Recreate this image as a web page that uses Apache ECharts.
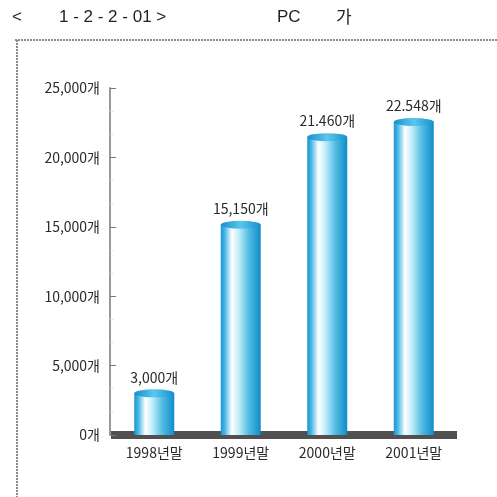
<!DOCTYPE html>
<html><head><meta charset="utf-8">
<script src="https://cdn.jsdelivr.net/npm/echarts@6/dist/echarts.min.js"></script>
<style>html,body{margin:0;padding:0;background:#fff}#c{width:497px;height:497px}</style>
</head><body><div id="c"></div>
<script>
const categories = ['1998년말', '1999년말', '2000년말', '2001년말'];
const values = [3000, 15150, 21460, 22548];
const valueLabels = ['3,000개', '15,150개', '21.460개', '22.548개'];
const yTicks = [0, 5000, 10000, 15000, 20000, 25000];
const yTickLabels = ['0개', '5,000개', '10,000개', '15,000개', '20,000개', '25,000개'];

const chart = echarts.init(document.getElementById('c'));
const font = '"Noto Sans CJK KR", "Liberation Sans", sans-serif';
const barGrad = new echarts.graphic.LinearGradient(0, 0, 1, 0, [
  {offset: 0, color: '#1596d0'},
  {offset: 0.1, color: '#46b6e4'},
  {offset: 0.28, color: '#ffffff'},
  {offset: 0.45, color: '#c2eef9'},
  {offset: 0.7, color: '#52bde4'},
  {offset: 1, color: '#0f8cc8'}
]);
const capGrad = new echarts.graphic.LinearGradient(0, 0, 1, 0, [
  {offset: 0, color: '#1590cc'},
  {offset: 0.5, color: '#5cc6ec'},
  {offset: 1, color: '#1590cc'}
]);
chart.setOption({
  animation: false,
  grid: {left: 111, right: 40, top: 88, bottom: 62},
  graphic: [
    {type: 'line', shape: {x1: 15, y1: 40, x2: 497, y2: 40}, style: {stroke: '#8a8a8a', lineWidth: 2, lineDash: [2, 1]}},
    {type: 'line', shape: {x1: 17, y1: 40, x2: 17, y2: 497}, style: {stroke: '#8a8a8a', lineWidth: 2, lineDash: [2, 1]}},
    {type: 'text', left: 12, top: 9, style: {text: '<', font: '17px "Liberation Sans", Arial, sans-serif', fill: '#222'}},
    {type: 'text', left: 59, top: 9, style: {text: '1 - 2 - 2 - 01 >', font: '17px "Liberation Sans", Arial, sans-serif', fill: '#222'}},
    {type: 'text', left: 277, top: 9, style: {text: 'PC', font: '17px "Liberation Sans", Arial, sans-serif', fill: '#222'}},
    {type: 'text', left: 336, top: 8, style: {text: '가', font: '17px "Noto Sans CJK KR", sans-serif', fill: '#222'}}
  ],
  xAxis: {
    type: 'category', data: categories,
    axisLine: {lineStyle: {color: '#505050', width: 8, cap: 'butt'}},
    axisTick: {inside: true, length: 11, lineStyle: {color: '#777', width: 1}},
    axisLabel: {margin: 11, fontSize: 14, color: '#2a2a2a', fontFamily: font}
  },
  yAxis: {
    type: 'value', min: 0, max: 25000, interval: 5000, offset: 1,
    axisLine: {show: true, lineStyle: {color: '#999', width: 2}},
    axisTick: {show: true, inside: true, length: 6, lineStyle: {color: '#777'}},
    minorTick: {show: true, splitNumber: 3, length: 3, lineStyle: {color: '#ddd'}},
    splitLine: {show: false},
    axisLabel: {margin: 10, fontSize: 14, color: '#2a2a2a', fontFamily: font,
      formatter: v => yTickLabels[yTicks.indexOf(v)]}
  },
  series: [
    {
      type: 'bar', data: values, barWidth: 40, z: 2,
      itemStyle: {color: barGrad},
      label: {show: true, position: 'top', distance: 9, fontSize: 14, color: '#2a2a2a', fontFamily: font,
        formatter: p => valueLabels[p.dataIndex]}
    },
    {
      type: 'pictorialBar', data: values, symbol: 'circle', symbolSize: [40, 8],
      symbolPosition: 'end', symbolOffset: [0, '-50%'], z: 3,
      itemStyle: {color: capGrad}
    }
  ]
});
</script></body></html>
